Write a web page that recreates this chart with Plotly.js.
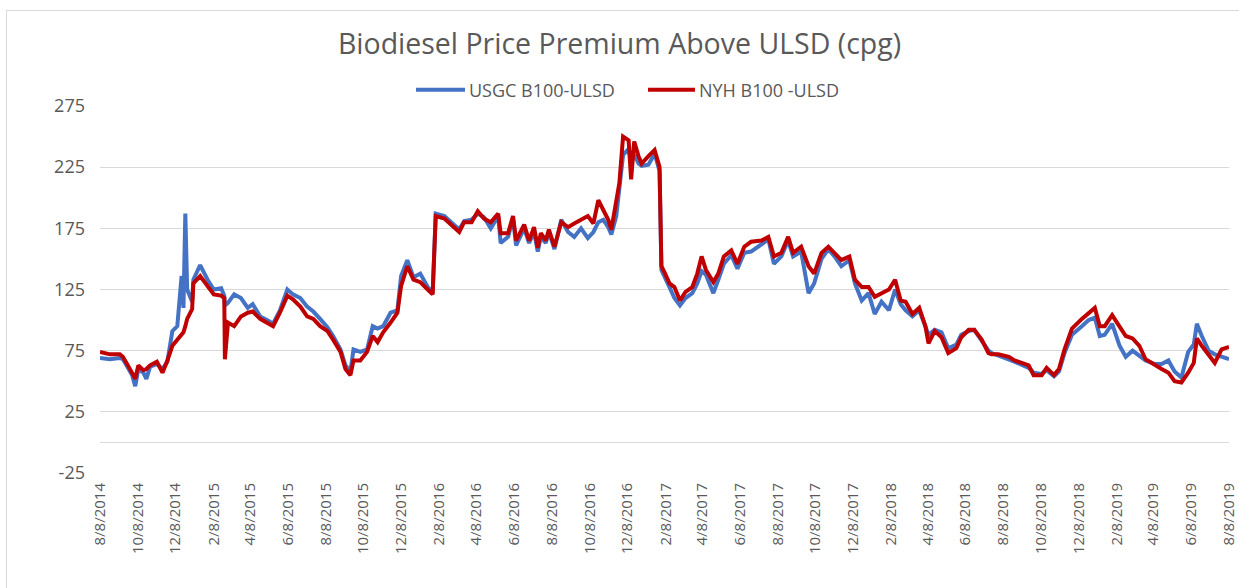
<!DOCTYPE html>
<html>
<head>
<meta charset="utf-8">
<script src="https://cdn.plot.ly/plotly-3.0.1.min.js"></script>
<style>
html,body{margin:0;padding:0;background:#fff;}
#chart{width:1239px;height:588px;position:absolute;left:0;top:0;}
#frame{position:absolute;left:6px;top:10px;width:1240px;height:590px;border:1px solid #d9d9d9;pointer-events:none;}
</style>
</head>
<body>
<div id="chart"></div>
<div id="frame"></div>
<script>
// Dates of observations
const dates = [
"2014-08-08","2014-08-24","2014-09-09","2014-09-14","2014-09-21","2014-09-29","2014-10-04","2014-10-09","2014-10-17","2014-10-22",
"2014-10-28","2014-11-08","2014-11-17","2014-11-25","2014-12-03","2014-12-11","2014-12-18","2014-12-21","2014-12-24","2014-12-27",
"2015-01-04","2015-01-06","2015-01-17","2015-01-29","2015-02-08","2015-02-20","2015-02-25","2015-02-26","2015-03-03","2015-03-13",
"2015-03-24","2015-04-04","2015-04-12","2015-04-24","2015-05-05","2015-05-15","2015-05-26","2015-06-07","2015-06-16","2015-06-28",
"2015-07-09","2015-07-19","2015-07-30","2015-08-11","2015-08-20","2015-09-01","2015-09-09","2015-09-17","2015-09-22","2015-10-03",
"2015-10-14","2015-10-23","2015-10-31","2015-11-09","2015-11-21","2015-12-02","2015-12-08","2015-12-18","2015-12-28","2016-01-08",
"2016-01-20","2016-01-28","2016-02-02","2016-02-16","2016-02-27","2016-03-11","2016-03-19","2016-03-31","2016-04-10","2016-04-20",
"2016-05-01","2016-05-13","2016-05-17","2016-05-29","2016-06-06","2016-06-11","2016-06-24","2016-07-02","2016-07-10","2016-07-16",
"2016-07-21","2016-07-29","2016-08-03","2016-08-12","2016-08-23","2016-09-03","2016-09-13","2016-09-24","2016-10-05","2016-10-14",
"2016-10-22","2016-10-30","2016-11-07","2016-11-12","2016-11-20","2016-11-25","2016-12-01","2016-12-10","2016-12-14","2016-12-19",
"2016-12-26","2016-12-31","2017-01-11","2017-01-21","2017-01-29","2017-02-01","2017-02-07","2017-02-14","2017-02-22","2017-03-03",
"2017-03-12","2017-03-23","2017-03-31","2017-04-07","2017-04-14","2017-04-26","2017-05-04","2017-05-13","2017-05-25","2017-06-04",
"2017-06-15","2017-06-26","2017-07-13","2017-07-24","2017-08-02","2017-08-14","2017-08-25","2017-09-02","2017-09-15","2017-09-27",
"2017-10-06","2017-10-18","2017-10-29","2017-11-08","2017-11-19","2017-12-02","2017-12-11","2017-12-22","2018-01-02","2018-01-12",
"2018-01-23","2018-02-04","2018-02-14","2018-02-23","2018-03-03","2018-03-14","2018-03-25","2018-04-04","2018-04-09","2018-04-19",
"2018-04-30","2018-05-11","2018-05-24","2018-06-01","2018-06-13","2018-06-22","2018-07-04","2018-07-15","2018-07-20","2018-07-31",
"2018-08-17","2018-08-26","2018-09-18","2018-09-26","2018-10-09","2018-10-17","2018-10-29","2018-11-06","2018-11-15","2018-11-27",
"2018-12-13","2018-12-24","2019-01-03","2019-01-11","2019-01-19","2019-01-31","2019-02-12","2019-02-22","2019-03-05","2019-03-16",
"2019-03-26","2019-04-10","2019-04-21","2019-05-02","2019-05-12","2019-05-23","2019-06-03","2019-06-12","2019-06-17","2019-06-25",
"2019-07-06","2019-07-16","2019-07-27","2019-08-08"
];
// USGC B100-ULSD (cpg)
const usgc = [
69,68,69,68,62,55,46,60,57,52,
62,64,60,66,91,95,136,110,187,125,
115,133,145,133,125,126,120,112,114,121,
118,110,113,103,100,97,108,125,121,118,
111,107,101,94,87,76,63,58,76,74,
76,95,93,95,106,108,136,149,135,138,
127,122,187,185,180,174,181,182,187,184,
175,185,163,168,183,161,175,163,172,156,
168,163,172,158,182,172,168,175,167,172,
180,182,176,170,185,205,235,240,228,235,
228,226,227,236,222,141,135,127,118,112,
118,122,130,140,137,122,133,146,153,142,
155,156,162,166,146,152,165,152,156,122,
130,150,158,152,144,149,130,116,122,105,
115,108,125,113,108,103,108,94,88,92,
90,77,80,88,91,92,83,75,73,71,
68,66,61,57,56,59,54,58,73,88,
95,100,102,87,88,97,79,70,75,71,
67,64,64,67,58,53,74,80,97,87,
75,72,70,68
];
// NYH B100 -ULSD (cpg)
const nyh = [
74,72,72,70,64,57,52,63,59,60,
63,66,57,67,79,84,88,90,95,101,
109,130,136,128,121,120,118,68,98,95,
103,106,107,101,98,95,106,120,117,111,
103,101,95,91,84,74,60,55,67,67,
74,87,82,90,98,106,128,144,133,131,
125,121,185,183,178,172,180,180,189,183,
180,187,171,171,185,165,178,165,176,159,
171,165,174,160,180,176,179,182,185,179,
198,190,182,174,198,212,250,247,215,246,
234,228,234,239,225,144,138,130,127,116,
123,127,138,152,141,131,138,152,157,146,
160,164,165,168,152,155,168,155,160,144,
138,155,160,155,149,152,133,127,127,119,
122,125,133,116,115,105,110,95,81,91,
86,73,77,86,92,92,84,73,72,72,
70,67,63,55,55,61,55,60,76,93,
101,106,110,95,95,104,95,87,85,79,
68,63,60,57,50,49,57,65,85,79,
72,65,76,78
];
const tickDates = [
"2014-08-08","2014-10-08","2014-12-08","2015-02-08","2015-04-08","2015-06-08","2015-08-08","2015-10-08",
"2015-12-08","2016-02-08","2016-04-08","2016-06-08","2016-08-08","2016-10-08","2016-12-08","2017-02-08",
"2017-04-08","2017-06-08","2017-08-08","2017-10-08","2017-12-08","2018-02-08","2018-04-08","2018-06-08",
"2018-08-08","2018-10-08","2018-12-08","2019-02-08","2019-04-08","2019-06-08","2019-08-08"
];
const tickLabels = [
"8/8/2014","10/8/2014","12/8/2014","2/8/2015","4/8/2015","6/8/2015","8/8/2015","10/8/2015",
"12/8/2015","2/8/2016","4/8/2016","6/8/2016","8/8/2016","10/8/2016","12/8/2016","2/8/2017",
"4/8/2017","6/8/2017","8/8/2017","10/8/2017","12/8/2017","2/8/2018","4/8/2018","6/8/2018",
"8/8/2018","10/8/2018","12/8/2018","2/8/2019","4/8/2019","6/8/2019","8/8/2019"
];
const yTicks = [-25,25,75,125,175,225,275];
const seriesNames = ["USGC B100-ULSD", "NYH B100 -ULSD"];
const seriesColors = ["#4472C4", "#C00000"];

const FONT = "Open Sans, Liberation Sans, sans-serif";
const GREY = "#595959";

const traces = [
  {x: dates, y: usgc, name: seriesNames[0], type: "scatter", mode: "lines",
   line: {color: seriesColors[0], width: 4}},
  {x: dates, y: nyh, name: seriesNames[1], type: "scatter", mode: "lines",
   line: {color: seriesColors[1], width: 4}}
];

// Legend drawn above the plot (line sample + label) in paper coordinates
const legY = 1.044;
const legLineX = [[0.2799, 0.3233], [0.4854, 0.5270]];
const legTextX = [0.3251, 0.5288];
const shapes = seriesNames.map((n, i) => ({
  type: "line", xref: "paper", yref: "paper",
  x0: legLineX[i][0], x1: legLineX[i][1], y0: legY, y1: legY,
  line: {color: seriesColors[i], width: 4}
}));
const annotations = seriesNames.map((n, i) => ({
  text: n, xref: "paper", yref: "paper", x: legTextX[i], y: legY,
  xanchor: "left", yanchor: "middle", showarrow: false,
  font: {family: FONT, size: 18, color: GREY}
}));

const layout = {
  width: 1239, height: 588,
  paper_bgcolor: "#ffffff", plot_bgcolor: "#ffffff",
  margin: {l: 100, r: 10, t: 106, b: 115},
  font: {family: FONT, color: GREY},
  title: {text: "Biodiesel Price Premium Above ULSD (cpg)", font: {family: FONT, size: 28.5, color: GREY},
          x: 0.5, xref: "container", xanchor: "center", y: 1 - 44/588, yref: "container", yanchor: "middle"},
  showlegend: false,
  shapes: shapes,
  annotations: annotations,
  xaxis: {type: "date", range: ["2014-08-08", "2019-08-08"], tickvals: tickDates, ticktext: tickLabels,
          tickangle: -90, showgrid: false, zeroline: false, showline: false, ticks: "",
          tickfont: {family: FONT, size: 15, color: GREY}, ticklabelstandoff: 6},
  yaxis: {range: [-25, 275], tickvals: yTicks, ticktext: yTicks.map(String),
          showgrid: true, gridcolor: "#d9d9d9", gridwidth: 1,
          zeroline: true, zerolinecolor: "#d9d9d9", zerolinewidth: 1,
          showline: false, ticks: "", tickfont: {family: FONT, size: 18, color: GREY}, ticklabelstandoff: 14}
};

Plotly.newPlot("chart", traces, layout, {displayModeBar: false, staticPlot: true});
</script>
</body>
</html>
